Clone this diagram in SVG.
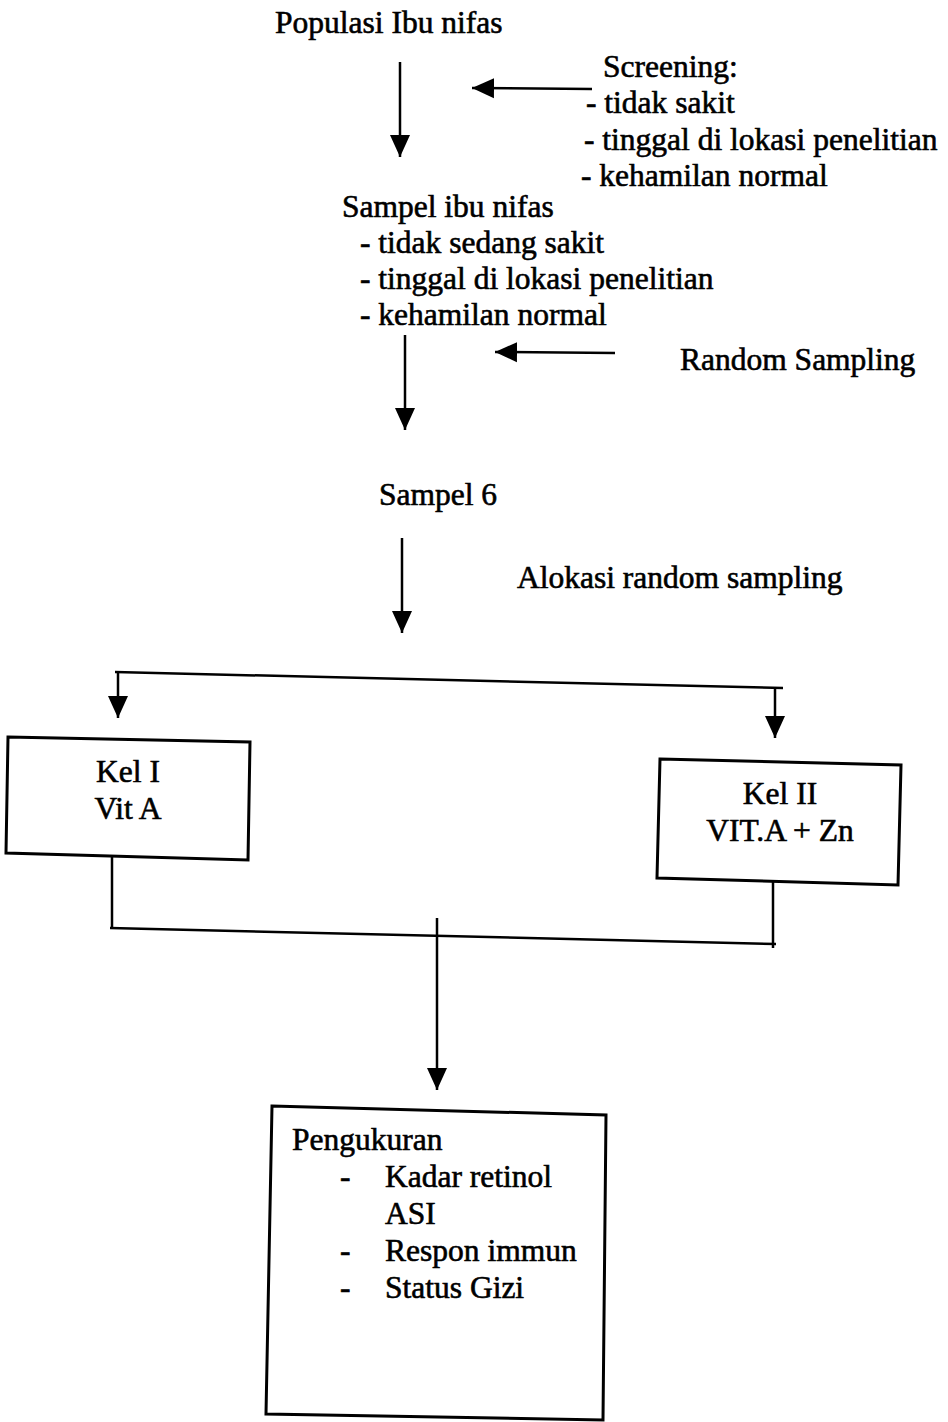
<svg xmlns="http://www.w3.org/2000/svg" width="948" height="1422" viewBox="0 0 948 1422">
<style>
text{font-family:"Liberation Serif","Times New Roman",serif;font-size:31.5px;fill:#000;stroke:#000;stroke-width:0.6px}
.c{text-anchor:middle}
.ln{stroke:#000;stroke-width:2.5;fill:none}
.bx{stroke:#000;stroke-width:3;fill:#fff}
</style>
<defs>
<marker id="ah" markerUnits="userSpaceOnUse" markerWidth="22" markerHeight="22" viewBox="0 0 22 20" refX="22" refY="10" orient="auto">
<path d="M0,0 L22,10 L0,20 Z" fill="#000"/>
</marker>
</defs>
<g id="connectors">
<line class="ln" x1="400" y1="62" x2="400" y2="157" marker-end="url(#ah)"/>
<line class="ln" x1="592" y1="89" x2="472" y2="88" marker-end="url(#ah)"/>
<line class="ln" x1="405" y1="335" x2="405" y2="430" marker-end="url(#ah)"/>
<line class="ln" x1="615" y1="353" x2="495" y2="352" marker-end="url(#ah)"/>
<line class="ln" x1="402" y1="538" x2="402" y2="633" marker-end="url(#ah)"/>
<line class="ln" x1="115" y1="672" x2="783" y2="688"/>
<line class="ln" x1="118" y1="672" x2="118" y2="718" marker-end="url(#ah)"/>
<line class="ln" x1="775" y1="688" x2="775" y2="738" marker-end="url(#ah)"/>
<line class="ln" x1="112" y1="857" x2="112" y2="928"/>
<line class="ln" x1="773" y1="877" x2="773" y2="948"/>
<line class="ln" x1="110" y1="928" x2="776" y2="944"/>
<line class="ln" x1="437" y1="918" x2="437" y2="1090" marker-end="url(#ah)"/>
</g>
<g id="populasi">
<text x="275" y="33">Populasi Ibu nifas</text>
</g>
<g id="screening">
<text x="603" y="77">Screening:</text>
<text x="586" y="113">- tidak sakit</text>
<text x="584" y="150">- tinggal di lokasi penelitian</text>
<text x="581" y="186">- kehamilan normal</text>
</g>
<g id="sampel-ibu-nifas">
<text x="342" y="217">Sampel ibu nifas</text>
<text x="360" y="253">- tidak sedang sakit</text>
<text x="360" y="289">- tinggal di lokasi penelitian</text>
<text x="360" y="325">- kehamilan normal</text>
</g>
<g id="random-sampling">
<text x="680" y="370">Random Sampling</text>
</g>
<g id="sampel-6">
<text x="379" y="505">Sampel 6</text>
</g>
<g id="alokasi">
<text x="517" y="588">Alokasi random sampling</text>
</g>
<g id="kel-1">
<polygon class="bx" points="8,737 250,742 248,860 6,853"/>
<text class="c" x="128" y="782">Kel I</text>
<text class="c" x="128" y="819">Vit A</text>
</g>
<g id="kel-2">
<polygon class="bx" points="660,759 901,765 898,885 657,878"/>
<text class="c" x="780" y="804">Kel II</text>
<text class="c" x="780" y="841">VIT.A + Zn</text>
</g>
<g id="pengukuran">
<polygon class="bx" points="272,1106 606,1115 603,1420 266,1414"/>
<text x="292" y="1150">Pengukuran</text>
<text x="340" y="1187">-</text>
<text x="385" y="1187">Kadar retinol</text>
<text x="385" y="1224">ASI</text>
<text x="340" y="1261">-</text>
<text x="385" y="1261">Respon immun</text>
<text x="340" y="1298">-</text>
<text x="385" y="1298">Status Gizi</text>
</g>
</svg>
